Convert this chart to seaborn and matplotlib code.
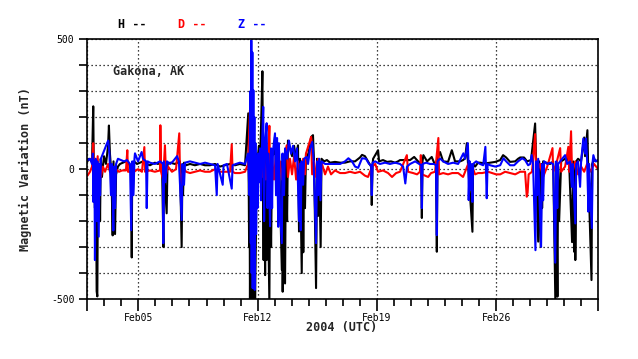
import matplotlib
matplotlib.use("Agg")
import matplotlib.pyplot as plt
import matplotlib.dates as mdates
import matplotlib.ticker as mticker
import pandas as pd
import seaborn as sns

# ------------------------------------------------------------------
# Data (days since 2004-02-02, nT)
# ------------------------------------------------------------------
h_samples = [
    (0.01, 30), (0.10, 40), (0.20, 35), (0.28, 30), (0.35, 242), (0.39, -60), (0.45, -150),
    (0.51, 10), (0.55, -470), (0.59, -490), (0.63, 20), (0.67, -150), (0.72, 10), (0.75, -200),
    (0.79, 40), (0.86, -30), (0.98, 50), (1.10, 20), (1.22, 90), (1.27, 168), (1.33, 60),
    (1.42, -20), (1.49, -255), (1.54, 30), (1.63, -250), (1.69, -20), (1.80, 10), (1.92, 20),
    (2.10, 25), (2.27, 30), (2.45, 20), (2.57, 0), (2.61, -340), (2.64, 20), (2.68, -100),
    (2.74, 30), (2.92, 20), (3.09, 25), (3.27, 30), (3.45, 20), (3.68, 15), (3.97, 25),
    (4.15, 20), (4.27, 25), (4.39, 10), (4.47, -300), (4.50, 10), (4.66, -170), (4.71, 20),
    (4.86, 25), (5.15, 20), (5.44, 30), (5.54, -300), (5.59, 20), (5.62, -100), (5.68, 25),
    (5.80, 15), (6.03, 20), (6.32, 15), (6.62, 20), (6.91, 15), (7.20, 15), (7.50, 20),
    (7.79, 10), (8.09, 15), (8.38, 20), (8.67, 15), (8.96, 20), (9.26, 15), (9.45, 215),
    (9.50, -300), (9.52, 100), (9.55, -500), (9.58, -100), (9.61, -520), (9.64, -200),
    (9.67, -520), (9.70, -50), (9.73, -480), (9.76, 0), (9.79, -500), (9.82, -150),
    (9.85, -520), (9.91, -200), (9.94, 60), (9.96, -100), (10.02, 50), (10.08, 90),
    (10.11, -50), (10.20, 163), (10.28, 377), (10.32, -60), (10.35, -350), (10.38, 60),
    (10.44, -408), (10.48, 40), (10.53, -350), (10.58, 20), (10.69, -520), (10.73, 30),
    (10.79, -300), (10.85, 50), (10.96, 60), (11.02, 124), (11.14, -100), (11.25, 80),
    (11.42, -388), (11.45, 30), (11.47, -472), (11.52, 40), (11.61, -440), (11.66, 60),
    (11.73, -200), (11.78, 110), (11.90, 80), (12.02, 50), (12.14, 90), (12.26, 40),
    (12.37, 92), (12.43, -240), (12.49, 40), (12.59, -400), (12.64, 30), (12.68, -320),
    (12.73, 40), (12.78, -150), (12.84, 60), (12.96, 50), (13.14, 124), (13.25, 131),
    (13.31, 30), (13.43, -458), (13.49, 40), (13.55, -180), (13.61, 30), (13.70, -300),
    (13.75, 40), (13.90, 30), (14.07, 35), (14.25, 25), (14.54, 28), (14.84, 25), (15.13, 25),
    (15.42, 30), (15.72, 30), (16.01, 45), (16.13, 55), (16.30, 50), (16.48, 30), (16.66, 10),
    (16.70, -138), (16.75, 20), (16.78, 40), (17.07, 73), (17.13, 30), (17.36, 35),
    (17.60, 28), (17.83, 30), (18.07, 25), (18.24, 30), (18.36, 35), (18.95, 35), (19.19, 47),
    (19.42, 30), (19.60, 20), (19.64, -188), (19.68, 30), (19.73, 54), (19.95, 30),
    (20.22, 47), (20.36, 25), (20.47, 20), (20.52, -318), (20.56, 40), (20.71, 66),
    (20.89, 30), (21.18, 28), (21.40, 73), (21.59, 30), (21.89, 30), (22.06, 35), (22.18, 42),
    (22.28, 100), (22.36, 10), (22.61, -241), (22.65, 20), (22.77, 10), (22.94, 25),
    (23.06, 25), (23.36, 22), (23.65, 25), (23.95, 28), (24.24, 35), (24.41, 54), (24.59, 45),
    (24.82, 28), (25.12, 30), (25.29, 40), (25.41, 45), (25.64, 45), (25.82, 30), (26.05, 35),
    (26.29, 176), (26.35, 20), (26.47, -279), (26.53, 30), (26.62, -299), (26.67, 20),
    (26.70, -150), (26.76, 30), (26.94, 25), (27.17, 20), (27.35, 30), (27.48, -520),
    (27.53, 20), (27.60, -491), (27.64, 10), (27.70, -200), (27.82, 30), (28.05, 40),
    (28.17, 50), (28.29, 20), (28.46, -281), (28.52, 30), (28.58, -318), (28.63, 20),
    (28.65, -350), (28.70, 30), (28.81, 40), (28.99, 30), (29.17, 122), (29.22, 50),
    (29.36, 150), (29.40, 20), (29.60, -427), (29.64, 20), (29.75, 40), (29.87, 30),
    (29.99, 35),
]

d_samples = [
    (0.01, -25), (0.16, -10), (0.28, 10), (0.35, 100), (0.39, -50), (0.45, 40), (0.51, -60),
    (0.61, 50), (0.66, -40), (0.75, 20), (0.80, -30), (0.92, 10), (1.04, -10), (1.22, 20),
    (1.33, -10), (1.45, 10), (1.57, -20), (1.69, 0), (1.86, -10), (2.04, -5), (2.27, -5),
    (2.35, 73), (2.39, -10), (2.57, -10), (2.61, -68), (2.64, 10), (2.74, -10), (2.98, 0),
    (3.21, -10), (3.35, 85), (3.39, -10), (3.68, -5), (3.97, -10), (4.27, -5), (4.29, 169),
    (4.33, -10), (4.45, -40), (4.56, 92), (4.62, -20), (4.74, 10), (4.97, -10), (5.21, 0),
    (5.40, 138), (5.44, -10), (5.54, -60), (5.62, 10), (5.80, -10), (6.03, -15), (6.32, -10),
    (6.62, -5), (6.91, -10), (7.20, -10), (7.50, 0), (7.79, -10), (8.09, -10), (8.38, -10),
    (8.48, 96), (8.53, -10), (8.67, -15), (8.96, -15), (9.26, -10), (9.44, 20), (9.55, 227),
    (9.61, -40), (9.67, 60), (9.73, -30), (9.85, 20), (9.96, -40), (10.14, 40), (10.26, -30),
    (10.38, 50), (10.49, -40), (10.61, 30), (10.69, 167), (10.73, -30), (10.85, 40),
    (10.96, -40), (11.08, 60), (11.20, -30), (11.31, 30), (11.43, -40), (11.55, 50),
    (11.71, 92), (11.78, -30), (11.90, 40), (12.02, -20), (12.14, 50), (12.26, -40),
    (12.37, 30), (12.55, -30), (12.67, 40), (12.78, -20), (12.84, 60), (13.14, 124),
    (13.20, -20), (13.31, 30), (13.43, -30), (13.55, 40), (13.66, -20), (13.78, 20),
    (13.96, -20), (14.13, 10), (14.31, -20), (14.54, -5), (14.84, -15), (15.13, -15),
    (15.42, -10), (15.72, -15), (16.01, -10), (16.30, -25), (16.48, -30), (16.72, 10),
    (16.90, 20), (17.07, -10), (17.36, -5), (17.66, -15), (17.89, -30), (18.13, -15),
    (18.36, -10), (18.76, 54), (18.83, -10), (19.13, -15), (19.36, -20), (19.53, -10),
    (19.58, 54), (19.65, -20), (20.01, -30), (20.18, -15), (20.42, -10), (20.61, 120),
    (20.65, -20), (20.89, -15), (21.18, -20), (21.42, -15), (21.77, -15), (22.06, -30),
    (22.18, -10), (22.36, 20), (22.47, -30), (22.59, 10), (22.77, -20), (22.94, -15),
    (23.18, -15), (23.53, -10), (23.77, -15), (24.00, -20), (24.24, -20), (24.53, -10),
    (24.82, -15), (25.12, -20), (25.41, -10), (25.70, -10), (25.80, -106), (25.85, -90),
    (25.91, -20), (26.11, -10), (26.29, 135), (26.35, -20), (26.58, 20), (26.76, -30),
    (27.00, 10), (27.31, 81), (27.35, -10), (27.53, 20), (27.76, 81), (27.82, -10),
    (28.05, 10), (28.24, 86), (28.29, -10), (28.40, 146), (28.46, -20), (28.64, 30),
    (28.81, -20), (28.99, 10), (29.17, -10), (29.34, 20), (29.52, -10), (29.75, 20),
    (29.99, 0),
]

z_samples = [
    (0.01, 35), (0.16, 40), (0.28, 20), (0.33, 60), (0.35, -126), (0.42, 30), (0.45, -350),
    (0.49, 40), (0.54, -200), (0.59, 30), (0.67, -260), (0.72, 20), (0.75, -100), (0.80, 40),
    (0.92, 60), (1.04, 80), (1.16, 100), (1.23, 110), (1.30, 60), (1.39, -100), (1.45, 20),
    (1.53, -236), (1.57, 10), (1.63, -150), (1.69, 20), (1.80, 40), (1.98, 35), (2.16, 30),
    (2.33, 35), (2.51, 20), (2.58, -235), (2.64, 30), (2.71, -100), (2.77, 40), (2.80, 61),
    (2.98, 30), (3.19, 66), (3.27, 40), (3.45, 30), (3.49, -150), (3.54, 30), (3.68, 25),
    (3.97, 20), (4.27, 30), (4.45, 20), (4.46, -285), (4.50, 30), (4.59, -50), (4.68, 30),
    (4.86, 20), (5.03, 30), (5.27, 50), (5.38, 30), (5.54, -196), (5.59, 20), (5.68, -60),
    (5.74, 25), (6.03, 30), (6.32, 25), (6.62, 20), (6.91, 25), (7.20, 20), (7.50, 15),
    (7.60, -100), (7.65, 20), (7.95, -60), (8.00, 15), (8.20, 20), (8.48, -75), (8.53, 15),
    (8.73, 20), (8.96, 25), (9.26, 20), (9.44, 60), (9.52, -100), (9.57, 300), (9.60, -285),
    (9.63, 496), (9.65, -400), (9.69, 450), (9.71, -458), (9.75, 304), (9.77, -300),
    (9.81, 200), (9.83, -465), (9.87, 100), (9.91, -250), (9.95, 50), (9.99, -150),
    (10.04, 60), (10.08, -50), (10.14, 80), (10.20, -120), (10.26, 100), (10.33, 240),
    (10.38, -200), (10.44, 100), (10.53, 177), (10.58, -150), (10.64, 60), (10.73, -220),
    (10.79, 80), (10.85, -150), (10.90, 70), (11.02, 138), (11.08, -100), (11.14, 120),
    (11.21, -222), (11.25, 100), (11.31, -150), (11.42, -285), (11.46, 60), (11.55, -100),
    (11.61, 80), (11.73, 40), (11.84, 110), (11.96, 60), (12.08, 90), (12.20, 30), (12.31, 80),
    (12.43, -200), (12.49, 20), (12.53, -235), (12.58, 30), (12.67, -60), (12.73, 40),
    (12.88, 47), (12.96, 20), (13.08, 80), (13.21, 105), (13.28, 40), (13.43, -285),
    (13.49, 30), (13.55, -100), (13.61, 40), (13.69, -120), (13.75, 30), (13.96, 20),
    (14.25, 20), (14.54, 20), (14.84, 20), (15.13, 30), (15.33, 42), (15.54, 30), (15.72, 10),
    (15.90, 5), (16.13, 42), (16.36, 40), (16.54, 20), (16.66, 15), (16.70, -100),
    (16.75, 25), (16.90, 30), (17.18, 20), (17.48, 25), (17.77, 20), (18.07, 25), (18.36, 20),
    (18.54, 10), (18.67, -55), (18.77, 10), (18.95, 20), (19.25, 30), (19.48, 20),
    (19.60, 15), (19.64, -150), (19.68, 20), (19.89, 25), (20.12, 20), (20.36, 20),
    (20.47, 15), (20.52, -254), (20.56, 30), (20.71, 41), (20.89, 30), (21.18, 20),
    (21.48, 25), (21.77, 20), (22.08, 61), (22.18, 40), (22.34, 100), (22.38, 20),
    (22.39, -119), (22.45, 30), (22.47, -80), (22.53, 20), (22.61, -126), (22.65, 20),
    (22.83, 30), (23.06, 20), (23.24, 15), (23.37, 86), (23.45, -112), (23.50, 20),
    (23.65, 15), (23.95, 10), (24.24, 15), (24.43, 42), (24.59, 30), (24.82, 15), (25.06, 15),
    (25.29, 30), (25.53, 42), (25.70, 35), (25.88, 15), (26.00, 20), (26.09, 54), (26.17, 20),
    (26.31, -312), (26.35, 30), (26.41, -100), (26.47, 40), (26.64, -299), (26.70, 20),
    (26.76, -120), (26.82, 30), (27.00, 20), (27.17, 25), (27.35, 20), (27.47, -360),
    (27.53, 30), (27.59, -150), (27.64, 20), (27.76, 30), (28.05, 54), (28.17, 20),
    (28.35, 30), (28.44, -68), (28.49, 20), (28.60, -132), (28.65, -209), (28.70, 20),
    (28.81, 30), (28.93, -68), (28.99, 30), (29.12, 118), (29.22, 60), (29.28, 118),
    (29.34, 40), (29.42, -164), (29.46, 20), (29.62, -227), (29.67, 30), (29.71, 54),
    (29.81, 30), (29.99, 35),
]

components = ["H", "D", "Z"]
colors = {"H": "#000000", "D": "#ff0000", "Z": "#0000ff"}
start = pd.Timestamp("2004-02-02")
end = pd.Timestamp("2004-03-03")
labelled_days = ["2004-02-05", "2004-02-12", "2004-02-19", "2004-02-26"]

# ------------------------------------------------------------------
# Long-form table for seaborn
# ------------------------------------------------------------------
rows = []
for comp, samples in zip(components, [h_samples, d_samples, z_samples]):
    for day, val in samples:
        rows.append({"time": start + pd.Timedelta(days=day), "nT": val, "comp": comp})
df = pd.DataFrame(rows)

# ------------------------------------------------------------------
# Plot
# ------------------------------------------------------------------
sns.set_style("white")
plt.rcParams["font.family"] = ["DejaVu Sans Mono", "DejaVu Sans"]

fig = plt.figure(figsize=(6.38, 3.59), dpi=100)
ax = fig.add_axes([0.1368, 0.1671, 0.801, 0.7234])

sns.lineplot(
    data=df, x="time", y="nT", hue="comp", hue_order=components,
    palette=colors, estimator=None, legend=False, linewidth=1.5, ax=ax,
)

ax.set_xlim(start, end)
ax.set_ylim(-500, 500)
ax.set_xlabel("")
ax.set_ylabel("")

# y axis: ticks every 100, labels only at -500 / 0 / 500
ax.yaxis.set_major_locator(mticker.FixedLocator(list(range(-500, 501, 100))))
ax.yaxis.set_major_formatter(
    mticker.FuncFormatter(lambda v, p: f"{int(v)}" if int(v) in (-500, 0, 500) else "")
)

# x axis: weekly labelled ticks, daily minor ticks
major_dates = [start] + [pd.Timestamp(d) for d in labelled_days] + [end]
ax.xaxis.set_major_locator(mticker.FixedLocator(mdates.date2num(major_dates)))
ax.xaxis.set_major_formatter(
    mticker.FuncFormatter(
        lambda v, p: "" if p in (0, len(major_dates) - 1) else mdates.num2date(v).strftime("%b%d")
    )
)
ax.xaxis.set_minor_locator(mdates.DayLocator())

ax.tick_params(axis="y", which="major", left=True, direction="out", length=5.8, width=1.2,
               pad=3.5, labelsize=7, colors="black")
ax.tick_params(axis="x", which="major", bottom=True, direction="out", length=8.6, width=1.2,
               pad=1.5, labelsize=7, colors="black")
ax.tick_params(axis="x", which="minor", bottom=True, direction="out", length=5, width=1.2,
               colors="black")

ax.set_axisbelow(True)
ax.grid(True, which="major", color="black", linestyle=(0, (1, 2.2)), linewidth=0.9)

for sp in ax.spines.values():
    sp.set_visible(True)
    sp.set_color("black")
    sp.set_linewidth(1.2)

# legend-like header and annotations
text_kw = dict(ha="center", va="center", fontsize=8.5, fontweight="bold",
               family="DejaVu Sans Mono")
fig.text(132 / 638, 1 - 24.5 / 359, "H --", color=colors["H"], **text_kw)
fig.text(192 / 638, 1 - 24.5 / 359, "D --", color=colors["D"], **text_kw)
fig.text(252 / 638, 1 - 24.5 / 359, "Z --", color=colors["Z"], **text_kw)

ax.text(0.05, 0.875, "Gakona, AK", transform=ax.transAxes, ha="left", va="center",
        fontsize=8.5, fontweight="bold", family="DejaVu Sans Mono")

fig.text(342 / 638, 1 - 328 / 359, "2004 (UTC)", **text_kw)
fig.text(25 / 638, 1 - 169 / 359, "Magnetic Variation (nT)", rotation=90, **text_kw)

fig.savefig("out.png", dpi=100)
